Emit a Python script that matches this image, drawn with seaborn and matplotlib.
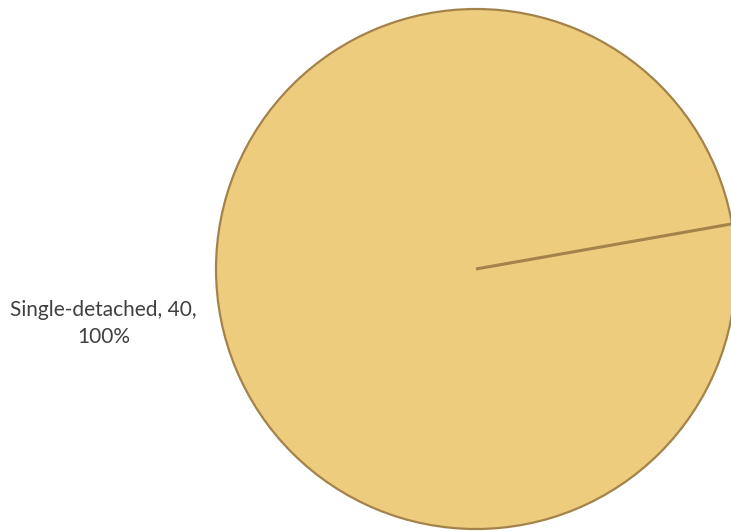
import matplotlib
matplotlib.use("Agg")
import numpy as np
import matplotlib.pyplot as plt
import seaborn as sns

categories = ["Single-detached"]
values = [40]
percents = ["100%"]

sns.set_style("white")
plt.rcParams['font.family'] = ['Lato', 'DejaVu Sans']

W, H = 731, 531
fig = plt.figure(figsize=(W / 100, H / 100), dpi=100)
cx, cy, r = 476, 269, 260
ax = fig.add_axes([(cx - r) / W, (H - cy - r) / H, 2 * r / W, 2 * r / H])

edge = "#A3834A"
labels = [f"{c}, {v},\n{p}" for c, v, p in zip(categories, values, percents)]
wedges, texts = ax.pie(values, labels=labels, startangle=10, radius=1,
                       colors=["#EDCC7D"], labeldistance=1.09,
                       wedgeprops=dict(edgecolor=edge, linewidth=1.6),
                       textprops=dict(fontsize=15, color="#404040",
                                      multialignment="center",
                                      linespacing=1.4),
                       frame=True)
for w in wedges:
    w.set_clip_on(False)
    t = np.deg2rad(w.theta1)
    ax.plot([w.center[0], w.center[0] + w.r * np.cos(t)],
            [w.center[1], w.center[1] + w.r * np.sin(t)],
            color=edge, linewidth=2.2, solid_capstyle='butt', clip_on=False)
for t in texts:
    x, y = t.get_position()
    t.set_position((x, y - 0.02))
ax.set_xlim(-1, 1)
ax.set_ylim(-1, 1)
ax.set_aspect('equal')
ax.axis('off')

fig.savefig("out.png", dpi=100)
